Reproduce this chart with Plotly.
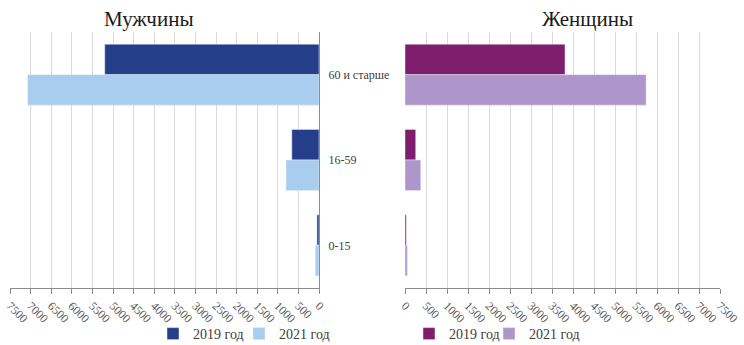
import plotly.graph_objects as go

categories = ["60 и старше", "16-59", "0-15"]
male_2019 = [5200, 660, 50]
male_2021 = [7070, 800, 90]
female_2019 = [3810, 255, 30]
female_2021 = [5740, 375, 55]
tick_vals = list(range(0, 7501, 500))
tick_text = [str(v) for v in tick_vals]

W, H = 744, 345
FONT = "Liberation Serif"

fig = go.Figure()
fig.add_trace(go.Bar(y=categories, x=male_2019, orientation="h", name="2019 год",
                     marker_color="#243E8A", xaxis="x", yaxis="y", legend="legend"))
fig.add_trace(go.Bar(y=categories, x=male_2021, orientation="h", name="2021 год",
                     marker_color="#A8CDEE", xaxis="x", yaxis="y", legend="legend2"))
fig.add_trace(go.Bar(y=categories, x=female_2019, orientation="h", name="2019 год",
                     marker_color="#7F1E6C", xaxis="x2", yaxis="y2", legend="legend3"))
fig.add_trace(go.Bar(y=categories, x=female_2021, orientation="h", name="2021 год",
                     marker_color="#AE96CB", xaxis="x2", yaxis="y2", legend="legend4"))

axis_common = dict(
    tickvals=tick_vals, ticktext=tick_text, tickangle=45,
    showgrid=True, gridcolor="#D9D9D9", gridwidth=1,
    showline=True, linecolor="#8C8C8C", linewidth=1,
    ticks="outside", ticklen=5, tickcolor="#8C8C8C",
    tickfont=dict(family=FONT, size=12, color="#595959"),
    zeroline=False, fixedrange=True,
)

legend_common = dict(orientation="h", xanchor="left", yanchor="top", y=-30 / 256,
                     font=dict(family=FONT, size=14, color="#404040"),
                     itemwidth=30, bgcolor="rgba(0,0,0,0)")

fig.update_layout(
    width=W, height=H,
    margin=dict(l=0, r=0, t=32, b=57, autoexpand=False),
    paper_bgcolor="white", plot_bgcolor="white",
    barmode="group", bargap=0.285, bargroupgap=0,
    font=dict(family=FONT, color="#404040"),
    xaxis=dict(domain=[10 / W, 319 / W], range=[7500, 0], anchor="y", **axis_common),
    xaxis2=dict(domain=[405 / W, 720 / W], range=[0, 7500], anchor="y2", **axis_common),
    yaxis=dict(domain=[0, 1], anchor="x", side="right", autorange="reversed",
               categoryorder="array", categoryarray=categories,
               showline=True, linecolor="#8C8C8C", linewidth=1, ticks="",
               showgrid=False, ticklabelstandoff=6, fixedrange=True,
               tickfont=dict(family=FONT, size=12, color="#404040")),
    yaxis2=dict(domain=[0, 1], anchor="x2", autorange="reversed",
                categoryorder="array", categoryarray=categories, fixedrange=True,
                showline=False, showticklabels=False, ticks="", showgrid=False),
    legend=dict(x=153 / W, **legend_common),
    legend2=dict(x=239 / W, **legend_common),
    legend3=dict(x=409 / W, **legend_common),
    legend4=dict(x=489 / W, **legend_common),
    annotations=[
        dict(text="Мужчины", x=149 / W, y=1 + 13 / 256, xref="paper", yref="paper",
             showarrow=False, xanchor="center", yanchor="middle",
             font=dict(family=FONT, size=21, color="#1a1a1a")),
        dict(text="Женщины", x=587 / W, y=1 + 13 / 256, xref="paper", yref="paper",
             showarrow=False, xanchor="center", yanchor="middle",
             font=dict(family=FONT, size=21, color="#1a1a1a")),
    ],
    showlegend=True,
)

fig.write_html("out.html", config={"displayModeBar": False, "staticPlot": True},
               post_script="document.body.style.margin='0';document.body.style.overflow='hidden';")
